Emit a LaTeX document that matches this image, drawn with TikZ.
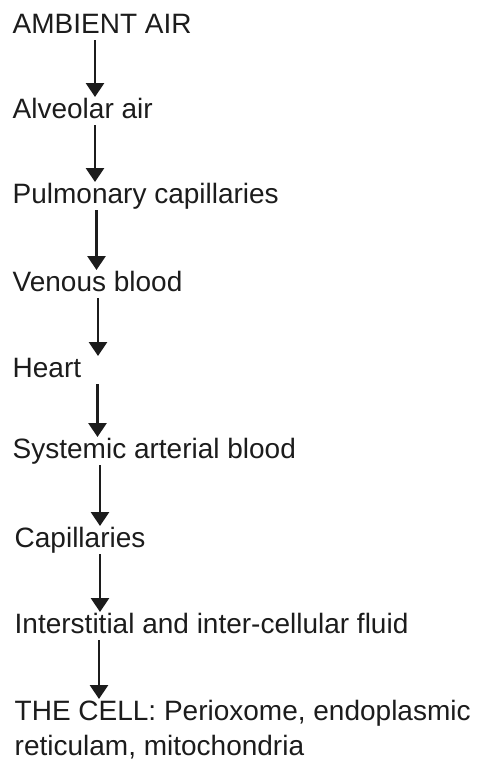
\documentclass[tikz,border=0pt]{standalone}
\usepackage{fontspec}
\setmainfont{Liberation Sans}
\usetikzlibrary{arrows.meta,calc}

\definecolor{inkgray}{HTML}{1C1C1C}

\tikzset{
  stage/.style={anchor=base west, inner sep=0pt, text=inkgray,
    font=\fontsize{28}{35}\selectfont, align=left},
  flow/.style={-{Triangle[width=18pt,length=14pt]}, line width=2.9pt, draw=inkgray}
}

\begin{document}
\begin{tikzpicture}[x=1pt, y=1pt]

    \useasboundingbox (0,0) rectangle (479,-761);

    % Stages
    \node[stage] (ambient)   at (12.5,-33)  {AMBIENT AIR};
    \node[stage] (alveolar)  at (12.5,-118) {Alveolar air};
    \node[stage] (pulmonary) at (12.5,-203) {Pulmonary capillaries};
    \node[stage] (venous)    at (12.5,-291) {Venous blood};
    \node[stage] (heart)     at (12.5,-377) {Heart};
    \node[stage] (systemic)  at (12.5,-458) {Systemic arterial blood};
    \node[stage] (capill)    at (14.5,-547) {Capillaries};
    \node[stage] (fluid)     at (14.5,-633) {Interstitial and inter-cellular fluid};
    % two lines: base is the second line
    \node[stage] (cell)      at (14.5,-755) {THE CELL: Perioxome, endoplasmic\\reticulam, mitochondria};

    % Arrows
    \draw[flow] ($(ambient.base west)+(82.5,-7)$)   -- ($(alveolar.base west)+(82.5,21)$);
    \draw[flow] ($(alveolar.base west)+(82.5,-7)$)  -- ($(pulmonary.base west)+(82.5,21)$);
    \draw[flow] ($(pulmonary.base west)+(84,-7)$)   -- ($(venous.base west)+(84,21)$);
    \draw[flow] ($(venous.base west)+(85.5,-7)$)    -- ($(heart.base west)+(85.5,21)$);
    \draw[flow] ($(heart.base west)+(85,-7)$)       -- ($(systemic.base west)+(85,21)$);
    \draw[flow] ($(systemic.base west)+(87.5,-7)$)  -- ($(capill.base west)+(85.5,21)$);
    \draw[flow] ($(capill.base west)+(85.5,-7)$)    -- ($(fluid.base west)+(85.5,21)$);
    \draw[flow] ($(fluid.base west)+(84.5,-7)$)     -- ($(cell.base west)+(84.5,56)$);

\end{tikzpicture}
\end{document}
